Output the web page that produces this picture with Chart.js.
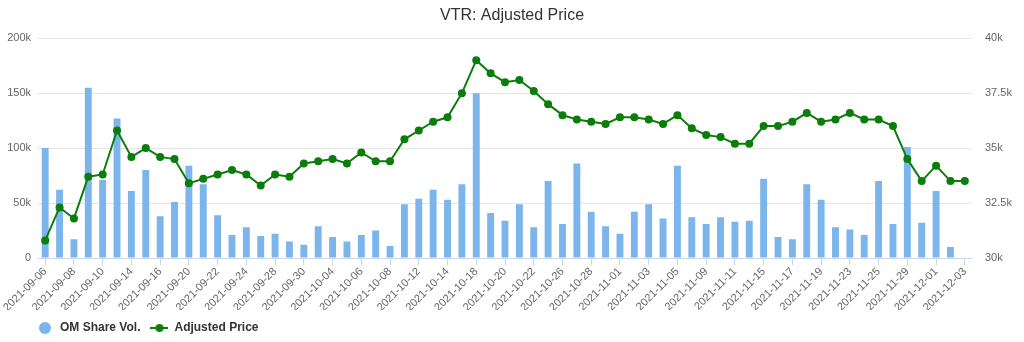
<!DOCTYPE html>
<html>
<head>
<meta charset="utf-8">
<script src="https://cdn.jsdelivr.net/npm/chart.js@4.4.1/dist/chart.umd.min.js"></script>
<style>
  html, body { margin: 0; padding: 0; background: #ffffff; }
  #wrap { width: 1024px; height: 342px; }
</style>
</head>
<body>
<div id="wrap"><canvas id="chart-vtr"></canvas></div>
<script>
const tradeDates = [
  "2021-09-06", "2021-09-07", "2021-09-08", "2021-09-09", "2021-09-10",
  "2021-09-13", "2021-09-14", "2021-09-15", "2021-09-16", "2021-09-17",
  "2021-09-20", "2021-09-21", "2021-09-22", "2021-09-23", "2021-09-24",
  "2021-09-27", "2021-09-28", "2021-09-29", "2021-09-30", "2021-10-01",
  "2021-10-04", "2021-10-05", "2021-10-06", "2021-10-07", "2021-10-08",
  "2021-10-11", "2021-10-12", "2021-10-13", "2021-10-14", "2021-10-15",
  "2021-10-18", "2021-10-19", "2021-10-20", "2021-10-21", "2021-10-22",
  "2021-10-25", "2021-10-26", "2021-10-27", "2021-10-28", "2021-10-29",
  "2021-11-01", "2021-11-02", "2021-11-03", "2021-11-04", "2021-11-05",
  "2021-11-08", "2021-11-09", "2021-11-10", "2021-11-11", "2021-11-12",
  "2021-11-15", "2021-11-16", "2021-11-17", "2021-11-18", "2021-11-19",
  "2021-11-22", "2021-11-23", "2021-11-24", "2021-11-25", "2021-11-26",
  "2021-11-29", "2021-11-30", "2021-12-01", "2021-12-02", "2021-12-03",
];

const shareVolume = [
  100000, 62000, 17000, 155000, 71000,
  127000, 61000, 80000, 38000, 51000,
  84000, 67000, 39000, 21000, 28000,
  20000, 22000, 15000, 12000, 29000,
  19000, 15000, 21000, 25000, 11000,
  49000, 54000, 62000, 53000, 67000,
  150000, 41000, 34000, 49000, 28000,
  70000, 31000, 86000, 42000, 29000,
  22000, 42000, 49000, 36000, 84000,
  37000, 31000, 37000, 33000, 34000,
  72000, 19000, 17000, 67000, 53000,
  28000, 26000, 21000, 70000, 31000,
  101000, 32000, 61000, 10000, null,
];

const adjustedPrice = [
  30800, 32300, 31800, 33700, 33800,
  35800, 34600, 35000, 34600, 34500,
  33400, 33600, 33800, 34000, 33800,
  33300, 33800, 33700, 34300, 34400,
  34500, 34300, 34800, 34400, 34400,
  35400, 35800, 36200, 36400, 37500,
  39000, 38400, 38000, 38100, 37600,
  37000, 36500, 36300, 36200, 36100,
  36400, 36400, 36300, 36100, 36500,
  35900, 35600, 35500, 35200, 35200,
  36000, 36000, 36200, 36600, 36200,
  36300, 36600, 36300, 36300, 36000,
  34500, 33500, 34200, 33500, 33500,
];

const volumeTicks = [0, 50000, 100000, 150000, 200000];
const priceTicks = [30000, 32500, 35000, 37500, 40000];

const BAR_COLOR = "#7cb5ec";
const LINE_COLOR = "#0b7d0b";
const GRID_COLOR = "#e6e6e6";
const AXIS_COLOR = "#ccd6eb";
const LABEL_COLOR = "#666666";
const FONT_FAMILY = "'Liberation Sans', Arial, sans-serif";

// legend symbols, highcharts style
function makeCircleIcon() {
  const c = document.createElement("canvas");
  c.width = 12;
  c.height = 12;
  const g = c.getContext("2d");
  g.fillStyle = BAR_COLOR;
  g.beginPath();
  g.arc(6, 6, 6, 0, Math.PI * 2);
  g.fill();
  return c;
}

function makeLineIcon() {
  const c = document.createElement("canvas");
  c.width = 18;
  c.height = 10;
  const g = c.getContext("2d");
  g.strokeStyle = LINE_COLOR;
  g.lineWidth = 2;
  g.beginPath();
  g.moveTo(0, 5);
  g.lineTo(18, 5);
  g.stroke();
  g.fillStyle = LINE_COLOR;
  g.beginPath();
  g.arc(9, 5, 4, 0, Math.PI * 2);
  g.fill();
  return c;
}

const legendIcons = [makeCircleIcon(), makeLineIcon()];

function kLabel(value) {
  if (value === 0) return "0";
  return value / 1000 + "k";
}

// push the legend a bit right and down, like the original
const legendShift = {
  id: "legendShift",
  afterLayout(chart) {
    if (!chart.legend) return;
    chart.legend.left = 26;
    chart.legend.top += 2;
  },
};

const ctx = document.getElementById("chart-vtr");

new Chart(ctx, {
  data: {
    labels: tradeDates,
    datasets: [
      {
        type: "bar",
        label: "OM Share Vol.",
        data: shareVolume,
        yAxisID: "yVol",
        backgroundColor: BAR_COLOR,
        categoryPercentage: 0.8,
        barPercentage: 0.6,
        order: 1,
      },
      {
        type: "line",
        label: "Adjusted Price",
        data: adjustedPrice,
        yAxisID: "yPrice",
        borderColor: LINE_COLOR,
        backgroundColor: LINE_COLOR,
        borderWidth: 2,
        pointStyle: "circle",
        pointRadius: 4,
        pointBackgroundColor: LINE_COLOR,
        pointBorderWidth: 0,
        tension: 0,
        order: 0,
      },
    ],
  },
  plugins: [legendShift],
  options: {
    responsive: true,
    maintainAspectRatio: false,
    animation: false,
    plugins: {
      title: {
        display: true,
        text: "VTR: Adjusted Price",
        color: "#333333",
        font: { family: FONT_FAMILY, size: 16, weight: "normal" },
        padding: { top: 6, bottom: 13 },
      },
      legend: {
        position: "bottom",
        align: "start",
        labels: {
          usePointStyle: true,
          pointStyleWidth: 18,
          padding: 10,
          color: "#333333",
          font: { family: FONT_FAMILY, size: 12, weight: "bold" },
          sort: (a, b) => a.datasetIndex - b.datasetIndex,
          generateLabels: (chart) => {
            const items = Chart.defaults.plugins.legend.labels.generateLabels(chart);
            items.forEach((item) => {
              item.pointStyle = legendIcons[item.datasetIndex];
            });
            return items;
          },
        },
      },
      tooltip: { enabled: false },
    },
    scales: {
      x: {
        offset: true,
        afterFit: (scale) => {
          scale.height = 52;
        },
        grid: {
          offset: false,
          drawOnChartArea: false,
          drawTicks: true,
          tickLength: 7,
          color: (c) => (c.index % 2 === 0 ? AXIS_COLOR : "rgba(0,0,0,0)"),
        },
        border: { display: true, color: AXIS_COLOR },
        ticks: {
          autoSkip: false,
          minRotation: 45,
          maxRotation: 45,
          padding: 0,
          color: LABEL_COLOR,
          font: { family: FONT_FAMILY, size: 11 },
          callback: function (value, index) {
            return index % 2 === 0 ? this.getLabelForValue(value) : "";
          },
        },
      },
      yVol: {
        position: "left",
        min: 0,
        max: 200000,
        afterBuildTicks: (scale) => {
          scale.ticks = volumeTicks.map((v) => ({ value: v }));
        },
        afterFit: (scale) => {
          scale.width = 38;
        },
        grid: { color: GRID_COLOR, drawTicks: false },
        border: { display: false },
        ticks: {
          padding: 7,
          color: LABEL_COLOR,
          font: { family: FONT_FAMILY, size: 11 },
          callback: kLabel,
        },
      },
      yPrice: {
        position: "right",
        min: 30000,
        max: 40000,
        afterBuildTicks: (scale) => {
          scale.ticks = priceTicks.map((v) => ({ value: v }));
        },
        afterFit: (scale) => {
          scale.width = 52;
        },
        grid: { drawOnChartArea: false, drawTicks: false },
        border: { display: false },
        ticks: {
          padding: 13,
          color: LABEL_COLOR,
          font: { family: FONT_FAMILY, size: 11 },
          callback: kLabel,
        },
      },
    },
  },
});
</script>
</body>
</html>
